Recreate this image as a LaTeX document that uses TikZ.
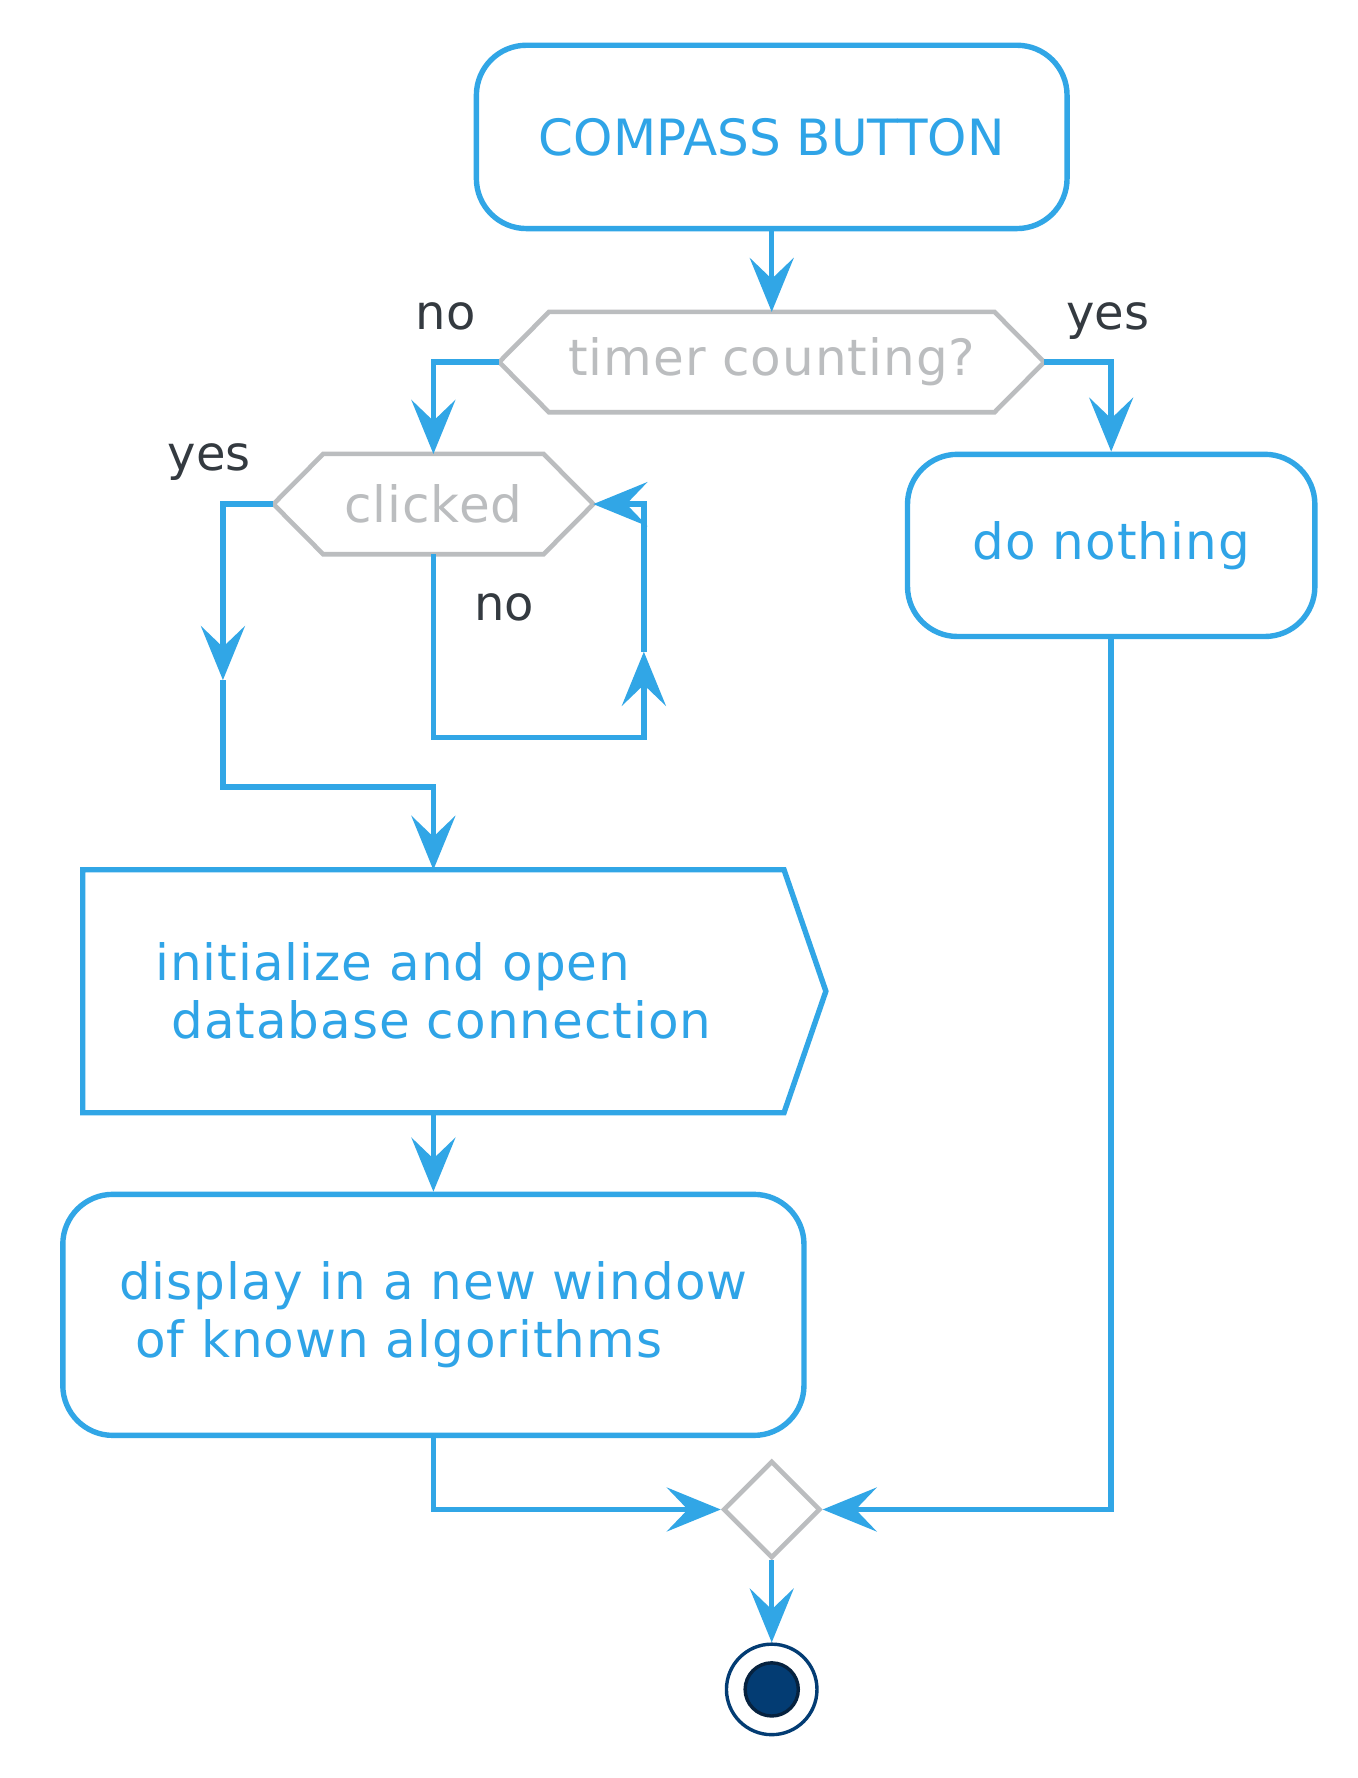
\documentclass[tikz,border=0pt]{standalone}
\usepackage{fontspec}
\setmainfont{DejaVu Sans}
\newfontfamily\spacedfont{DejaVu Sans}[LetterSpace=2.0]
\usetikzlibrary{arrows.meta}
\usetikzlibrary{shapes.geometric}
\usetikzlibrary{calc}
\definecolor{flowblue}{HTML}{31A6E6}
\definecolor{textblue}{HTML}{2FA4E7}
\definecolor{decgray}{HTML}{BBBDBF}
\definecolor{guarddark}{HTML}{343A40}
\definecolor{stopnavy}{HTML}{033C73}
\definecolor{stopdeep}{HTML}{06223F}
\def\px{0.5658pt}

\begin{document}
\begin{tikzpicture}[x=\px, y=-\px,
>={Stealth[length=27pt, width=22pt, inset=10.5pt]},
action/.style={draw=flowblue, line width=2.7pt, fill=white, rounded corners=25pt, text=textblue, font=\spacedfont\fontsize{25}{29}\selectfont, align=left, inner sep=0pt},
sendbox/.style={inner sep=0pt, text=textblue, font=\spacedfont\fontsize{25}{29}\selectfont, align=left},
decision/.style={inner sep=0pt, text=decgray, font=\spacedfont\fontsize{25}{30}\selectfont},
decline/.style={draw=decgray, line width=2.3pt},
merge/.style={diamond, draw=decgray, line width=2.3pt, fill=white, inner sep=0pt, minimum width=86*\px, minimum height=86*\px},
stopouter/.style={circle, draw=stopnavy, line width=1.7pt, fill=white, minimum size=80*\px, inner sep=0pt},
stopinner/.style={circle, draw=stopdeep, line width=1.7pt, fill=stopnavy, minimum size=47*\px, inner sep=0pt},
wire/.style={draw=flowblue, line width=2.7pt},
flow/.style={wire, ->},
guard/.style={anchor=base west, text=guarddark, font=\fontsize{24}{28}\selectfont, inner sep=0pt}]

\path[use as bounding box, fill=white] (0,0) rectangle (1200,1571.3);

%%%%%% NODES %%%%%%%%%%

\node[action, font=\rmfamily\fontsize{25}{29}\selectfont, minimum width=522*\px, minimum height=162*\px] (start) at (682,121) {COMPASS BUTTON};
\node[decision, minimum width=481*\px, minimum height=88*\px] (timer) at (682,320) {timer counting?};
\node[action, minimum width=360*\px, minimum height=161*\px] (nothing) at (982,482) {do nothing};
\node[decision, minimum width=282*\px, minimum height=88*\px] (clicked) at (383,445.5) {clicked};
\node[sendbox, minimum width=619*\px, minimum height=214*\px] (dbopen) at (383,876) {initialize and open\\\hspace*{.32em}database connection};
\node[action, minimum width=655*\px, minimum height=213*\px] (newwin) at (383,1162) {display in a new window\\\hspace*{.32em}of known algorithms};
\node[merge] (join) at (682,1334) {};
\node[stopouter] (stop) at (682,1493) {};
\node[stopinner] (stopdot) at (stop) {};

% hexagons and the send box
\foreach \d in {timer, clicked}
  \draw[decline] ([xshift=44*\px]\d.north west) -- ([xshift=-44*\px]\d.north east) -- (\d.east)
    -- ([xshift=-44*\px]\d.south east) -- ([xshift=44*\px]\d.south west) -- (\d.west) -- cycle;

\draw[wire] (dbopen.north west) -- (dbopen.north east) -- ($(dbopen.east)+(37,0)$)
  -- (dbopen.south east) -- (dbopen.south west) -- cycle;

%%%%%% FLOW %%%%%%%%%%

\draw[flow] (start.south) -- (timer.north);
\draw[flow] (timer.west) -| (clicked.north);
\draw[flow] (timer.east) -| (nothing.north);

\coordinate (yesarrow) at (197,601);
\coordinate (yesbend) at (197,695.5);
\draw[flow] (clicked.west) -| (yesarrow);
\draw[flow] (yesarrow) -- (yesbend) -| (dbopen.north);

\coordinate (loopbase) at (569,651.6);
\coordinate (looparrow) at (569,576);
\draw[flow] (clicked.south) |- (loopbase) -- (looparrow);
\draw[flow] (looparrow) |- (clicked.east);

\draw[flow] (dbopen.south) -- (newwin.north);
\draw[flow] (newwin.south) |- (join.west);
\draw[flow] (nothing.south) |- (join.east);
\draw[flow] (join.south) -- (stop.north);

%%%%%% GUARDS %%%%%%%%%%

\node[guard] (timerno) at (367,291) {no};
\node[guard] (timeryes) at (942,291) {yes};
\node[guard] (clickyes) at (148,416) {yes};
\node[guard] (clickno) at (419,548.5) {no};

\end{tikzpicture}
\end{document}
